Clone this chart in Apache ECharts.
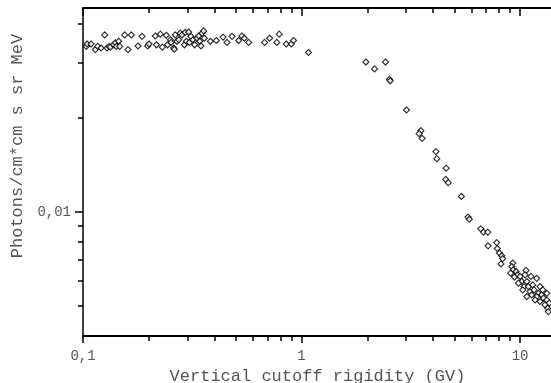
<!DOCTYPE html>
<html>
<head>
<meta charset="utf-8">
<script src="https://cdn.jsdelivr.net/npm/echarts@6/dist/echarts.min.js"></script>
<style>
  html, body { margin: 0; padding: 0; background: #fff; }
  #chart { width: 551px; height: 383px; }
</style>
</head>
<body>
<div id="chart"></div>
<script>
// vertical cutoff rigidity (GV) and photon flux
const rigidity = [
  0.1036, 0.1044, 0.1089, 0.1139, 0.1168, 0.1210, 0.1257, 0.1288, 0.1316, 0.1334,
  0.1381, 0.1406, 0.1422, 0.1456, 0.1472, 0.1552, 0.1607, 0.1664, 0.1786, 0.1862,
  0.1977, 0.2005, 0.2143, 0.2168, 0.2259, 0.2307, 0.2404, 0.2438, 0.2512, 0.2529,
  0.2600, 0.2618, 0.2642, 0.2692, 0.2742, 0.2786, 0.2838, 0.2911, 0.2938, 0.2972,
  0.3041, 0.3069, 0.3119, 0.3184, 0.3243, 0.3327, 0.3381, 0.3420, 0.3467, 0.3508,
  0.3565, 0.3589, 0.3828, 0.4074, 0.4375, 0.4560, 0.4808, 0.5152, 0.5333, 0.5470,
  0.5728, 0.6776, 0.7145, 0.7709, 0.7907, 0.8511, 0.8974, 0.9187, 1.076,
  1.970, 2.158, 2.421, 2.525, 2.545, 3.022, 3.516, 3.453, 3.564, 4.12,
  4.16, 4.59, 4.57, 4.69, 5.39, 5.78, 5.86, 6.61, 6.80, 7.12,
  7.14, 7.82, 7.87, 8.04, 8.24, 8.18, 8.32, 9.26, 9.16, 9.31,
  9.06, 9.59, 9.73, 9.42, 10.0, 10.65, 10.54, 11.22, 11.91, 10.18,
  10.74, 9.83, 10.43, 10.92, 11.43, 10.29, 11.11, 11.59, 12.34, 12.13,
  12.57, 11.91, 12.79, 12.34, 13.25, 13.0, 13.39, 13.61, 13.47, 11.3,
  10.74, 11.72, 12.71, 13.25
];
const flux = [
  0.0339, 0.0345, 0.0345, 0.0331, 0.0339, 0.0335, 0.0369, 0.0335, 0.0339, 0.0337,
  0.0343, 0.0348, 0.0339, 0.0352, 0.0339, 0.0369, 0.0331, 0.0369, 0.0340, 0.0365,
  0.0340, 0.0345, 0.0366, 0.0343, 0.0371, 0.0337, 0.0368, 0.0343, 0.0356, 0.0349,
  0.0335, 0.0332, 0.0369, 0.0352, 0.0356, 0.0374, 0.0369, 0.0343, 0.0376, 0.0352,
  0.0377, 0.0349, 0.0365, 0.0356, 0.0343, 0.0360, 0.0366, 0.0352, 0.0340, 0.0374,
  0.0380, 0.0360, 0.0352, 0.0354, 0.0363, 0.0349, 0.0365, 0.0354, 0.0366, 0.0360,
  0.0349, 0.0349, 0.0360, 0.0349, 0.0371, 0.0345, 0.0345, 0.0354, 0.0324,
  0.0302, 0.0287, 0.0302, 0.0266, 0.0263, 0.0212, 0.0182, 0.0178, 0.0172, 0.0156,
  0.0148, 0.0138, 0.0127, 0.0124, 0.0112, 0.00962, 0.00947, 0.00882, 0.00861, 0.00861,
  0.00778, 0.00797, 0.00763, 0.00738, 0.00723, 0.00681, 0.00708, 0.00685, 0.00668, 0.00652,
  0.00636, 0.00644, 0.00628, 0.00618, 0.00621, 0.00649, 0.00628, 0.00621, 0.00612, 0.00598,
  0.00598, 0.00591, 0.00576, 0.00576, 0.00583, 0.00562, 0.00555, 0.00562, 0.00576, 0.00548,
  0.00542, 0.00535, 0.00529, 0.00516, 0.00522, 0.00503, 0.00491, 0.00510, 0.00479, 0.00542,
  0.00535, 0.00522, 0.00562, 0.00548
];

const xLabels = [0.1, 1, 10];
const xMajorTicks = [0.1, 1, 10];
const xMinorTicks = [0.2, 0.3, 0.4, 0.5, 0.6, 0.7, 0.8, 0.9, 2, 3, 4, 5, 6, 7, 8, 9];
const yLabels = [0.01];
const yMajorTicks = [0.01];
const yMinorTicks = [0.005, 0.006, 0.007, 0.008, 0.009, 0.02, 0.03, 0.04];

const points = rigidity.map((r, i) => [r, flux[i]]);

const chart = echarts.init(document.getElementById('chart'));
const font = "'Liberation Mono', 'Courier New', monospace";
const commaFmt = v => String(v).replace('.', ',');

const X_MIN = 0.1, X_MAX = 14;
const Y_MIN = 0.004, Y_MAX = 0.045;

// the plot box, and a thin strip above it whose bottom edge is the top frame
// (ticks hanging down from that strip read as inward ticks on the top frame)
const plotRect = () => ({ left: 83, right: -1, top: 8, bottom: 47, outerBoundsMode: 'none' });
const topStrip = () => ({ left: 83, right: -1, top: 0, height: 8, outerBoundsMode: 'none' });

const tickLine = { color: '#000', width: 1.5 };
const hidden = (type, gridIndex) => ({ type, gridIndex, show: false });

// a log axis that only carries ticks at the given values
const xTickAxis = (gridIndex, values, length, withLine) => ({
  type: 'log', min: X_MIN, max: X_MAX, gridIndex,
  axisLine: { show: !!withLine, onZero: false, lineStyle: { color: '#000', width: 2 } },
  splitLine: { show: false },
  axisLabel: { show: false },
  axisTick: { show: true, length, customValues: values, lineStyle: tickLine }
});
const yTickAxis = (gridIndex, values, length) => ({
  type: 'log', min: Y_MIN, max: Y_MAX, gridIndex,
  axisLine: { show: false, onZero: false },
  splitLine: { show: false },
  axisLabel: { show: false },
  axisTick: { show: true, length, customValues: values, lineStyle: tickLine }
});

chart.setOption({
  animation: false,
  grid: [plotRect(), plotRect(), plotRect(), topStrip(), topStrip(), plotRect(), plotRect()],
  xAxis: [
    {
      type: 'log', min: X_MIN, max: X_MAX, gridIndex: 0,
      axisLine: { show: true, onZero: false, lineStyle: { color: '#000', width: 2 } },
      axisTick: { show: false },
      splitLine: { show: false },
      axisLabel: { show: true, customValues: xLabels, formatter: commaFmt, color: '#555', fontFamily: font, fontSize: 14, margin: 13 },
      name: 'Vertical cutoff rigidity (GV)',
      nameLocation: 'middle',
      nameGap: 29,
      nameTextStyle: { color: '#555', fontFamily: font, fontSize: 17 }
    },
    xTickAxis(1, xMajorTicks, 7),
    xTickAxis(2, xMinorTicks, 5),
    xTickAxis(3, xMajorTicks, 8, true),
    xTickAxis(4, xMinorTicks, 5),
    hidden('value', 5),
    hidden('value', 6)
  ],
  yAxis: [
    {
      type: 'log', min: Y_MIN, max: Y_MAX, gridIndex: 0,
      axisLine: { show: true, onZero: false, lineStyle: { color: '#000', width: 1.5 } },
      axisTick: { show: false },
      splitLine: { show: false },
      axisLabel: { show: true, customValues: yLabels, formatter: commaFmt, color: '#555', fontFamily: font, fontSize: 14, margin: 12 },
      name: 'Photons/cm*cm s sr MeV',
      nameLocation: 'middle',
      nameGap: 55,
      nameRotate: 90,
      nameTextStyle: { color: '#555', fontFamily: font, fontSize: 17, padding: [0, 0, 0, 52] }
    },
    hidden('value', 1),
    hidden('value', 2),
    hidden('value', 3),
    hidden('value', 4),
    yTickAxis(5, yMajorTicks, 8),
    yTickAxis(6, yMinorTicks, 5)
  ],
  series: [{
    type: 'scatter',
    xAxisIndex: 0,
    yAxisIndex: 0,
    symbol: 'diamond',
    symbolSize: 6,
    itemStyle: { color: '#fff', borderColor: '#000', borderWidth: 1.2 },
    data: points
  }]
});
</script>
</body>
</html>
